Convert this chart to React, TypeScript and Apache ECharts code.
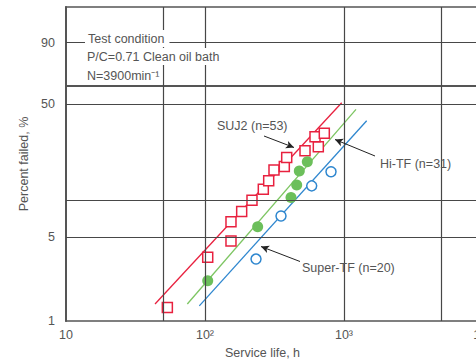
import React, { useEffect, useRef } from 'react';
import * as echarts from 'echarts';

const xTickValues = [10, 100, 1000, 10000];
const xTickLabels = ['10', '10²', '10³', '10⁴'];
const xGridValues = [50, 100, 1000, 5000];
const yTickPercents = [1, 5, 50, 90];
const yGridPercents = [5, 10, 50, 90];
const yRangePercents = [1, 99];

const sujLife = [53.6, 104.6, 153.8, 153.8, 183.6, 217.8, 262.7, 287.2, 313.6, 372.0, 387.1, 524.2, 653.4, 618.6, 721.6];
const sujFailed = [1.3, 3.42, 4.67, 6.74, 8.16, 10.05, 12.3, 14.4, 17.4, 18.5, 21.7, 24.3, 26.0, 30.7, 32.4];
const hiLife = [104.6, 239.3, 415.6, 456.8, 476.9, 544.5];
const hiFailed = [2.18, 6.13, 10.6, 13.3, 17.1, 20.1];
const superLife = [232.8, 352.2, 585.6, 806.3];
const superFailed = [3.31, 7.5, 13.1, 16.9];

const sujFitLife = [43.7, 962.7];
const sujFitFailed = [1.39, 50.9];
const hiFitLife = [74.6, 1220];
const hiFitFailed = [1.39, 46.5];
const superFitLife = [91.0, 1456];
const superFitFailed = [1.34, 39.4];

const RED = '#e8213f';
const GREEN = '#6cbf5b';
const GREEN_LINE = '#7dc562';
const BLUE = '#2f87cf';
const TEXT = '#555';
const GRID = '#474747';
const FONT = 'Liberation Sans';

const weib = (p: number) => Math.log(-Math.log(1 - p / 100));
const unweib = (w: number) => (1 - Math.exp(-Math.exp(w))) * 100;
const pts = (xs: number[], ps: number[]) => xs.map((x, i) => [x, weib(ps[i])]);

export default function App() {
  const ref = useRef<HTMLDivElement>(null);
  useEffect(() => {
    if (!ref.current) return;
    const chart = echarts.init(ref.current, undefined, { renderer: 'svg' });
    const textStyle = { fill: TEXT, fontSize: 12.5, fontFamily: FONT };
    chart.setOption({
      animation: false,
      grid: {
        left: 66, top: 7, width: 417, height: 314,
        show: true, borderColor: '#555', borderWidth: 1.5, backgroundColor: 'transparent',
      },
      xAxis: {
        type: 'log', logBase: 10, min: 10, max: 10000,
        axisLine: { show: true, lineStyle: { color: '#555', width: 2 } },
        axisTick: { show: false },
        splitLine: { show: false },
        minorSplitLine: { show: false },
        axisLabel: {
          customValues: xTickValues,
          margin: 7,
          color: TEXT, fontSize: 12.5, fontFamily: FONT,
          formatter: (v: number) => {
            const i = xTickValues.findIndex((t) => Math.abs(Math.log10(t) - Math.log10(v)) < 0.01);
            return i >= 0 ? xTickLabels[i] : '';
          },
        },
      },
      yAxis: {
        type: 'value', min: weib(yRangePercents[0]), max: weib(yRangePercents[1]),
        axisLine: { show: true, lineStyle: { color: '#555', width: 2 } },
        axisTick: { show: false },
        splitLine: { show: false },
        axisLabel: {
          customValues: yTickPercents.map(weib),
          margin: 11,
          color: TEXT, fontSize: 12.5, fontFamily: FONT,
          formatter: (v: number) => String(Math.round(unweib(v))),
        },
      },
      graphic: [
        { type: 'text', z: 100, left: 85, top: 30, style: { ...textStyle, text: 'Test condition', backgroundColor: '#fff', padding: [2, 5, 2, 3] } },
        { type: 'text', z: 100, left: 84, top: 48, style: { ...textStyle, text: 'P/C=0.71 Clean oil bath', backgroundColor: '#fff', padding: [2, 3, 2, 3] } },
        { type: 'text', z: 100, left: 84, top: 67, style: { ...textStyle, text: 'N=3900min⁻¹', backgroundColor: '#fff', padding: [2, 3, 2, 3] } },
        { type: 'text', z: 100, left: 217, top: 119, style: { ...textStyle, text: 'SUJ2 (n=53)' } },
        { type: 'text', z: 100, left: 380, top: 157, style: { ...textStyle, text: 'Hi-TF (n=31)' } },
        { type: 'text', z: 100, left: 302, top: 261, style: { ...textStyle, text: 'Super-TF (n=20)' } },
        { type: 'text', z: 100, left: 225, top: 346, style: { ...textStyle, text: 'Service life, h' } },
        { type: 'text', z: 100, x: 24, y: 164, rotation: Math.PI / 2, style: { ...textStyle, text: 'Percent failed, %', align: 'center', verticalAlign: 'middle' } },
      ],
      series: [
        {
          type: 'line', data: [], z: 1, silent: true,
          markLine: {
            silent: true, symbol: 'none', label: { show: false },
            lineStyle: { color: GRID, width: 1.2, type: 'solid' },
            data: [
              ...xGridValues.map((v) => ({ xAxis: v })),
              ...yGridPercents.map((p) => ({ yAxis: weib(p) })),
            ],
          },
        },
        { type: 'line', z: 3, data: pts(sujFitLife, sujFitFailed), symbol: 'none', lineStyle: { color: RED, width: 1.3 } },
        { type: 'line', z: 3, data: pts(hiFitLife, hiFitFailed), symbol: 'none', lineStyle: { color: GREEN_LINE, width: 1.3 } },
        { type: 'line', z: 3, data: pts(superFitLife, superFitFailed), symbol: 'none', lineStyle: { color: BLUE, width: 1.3 } },
        {
          type: 'scatter', z: 4, data: pts(sujLife, sujFailed), symbol: 'rect', symbolSize: 10,
          itemStyle: { color: '#fff', borderColor: RED, borderWidth: 1.5, opacity: 1 },
        },
        {
          type: 'scatter', z: 4, data: pts(hiLife, hiFailed), symbol: 'circle', symbolSize: 11,
          itemStyle: { color: GREEN, opacity: 1 },
        },
        {
          type: 'scatter', z: 4, data: pts(superLife, superFailed), symbol: 'circle', symbolSize: 10,
          itemStyle: { color: '#fff', borderColor: BLUE, borderWidth: 1.5, opacity: 1 },
        },
        {
          type: 'line', data: [], z: 6, silent: true,
          markLine: {
            silent: true, symbol: ['none', 'arrow'], symbolSize: [6, 8], label: { show: false },
            lineStyle: { color: '#222', width: 1, type: 'solid' },
            data: [
              [{ x: 264, y: 136 }, { x: 294, y: 147.5 }],
              [{ x: 375, y: 156 }, { x: 335, y: 139.5 }],
              [{ x: 300, y: 261.5 }, { x: 261, y: 246.5 }],
            ],
          },
        },
      ],
    });
    return () => chart.dispose();
  }, []);
  return (
    <div style={{ position: 'absolute', left: 0, top: 0, width: 476, height: 362, overflow: 'hidden', background: '#fff' }}>
      <div ref={ref} style={{ width: 520, height: 362 }} />
    </div>
  );
}
